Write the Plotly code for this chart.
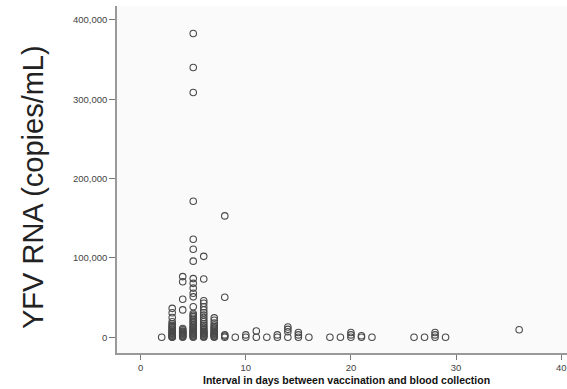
import plotly.graph_objects as go

# Interval (days) per column and YFV RNA values (copies/mL)
day2 = [0]
day3 = [36500, 31000, 25000, 19500, 17000, 15000, 13500, 12000, 10500, 9000, 7500, 6000, 5000, 4000,
        3000, 2000, 1000, 500, 0]
day4 = [76500, 70000, 48000, 34500, 11000, 9500, 8000, 7000, 6000, 5000, 4000, 3000, 2000, 1000, 0]
day5 = [383000, 340000, 308500, 171500, 123500, 111000, 96000, 74000, 68000, 62000, 55500, 51000, 38500,
        30000, 28000, 26000, 24000, 22000, 20000, 18000, 16000, 14000, 12500, 11000, 9500, 8000, 7000,
        6000, 5000, 4000, 3000, 2000, 1000, 0]
day6 = [102000, 73500, 46000, 43000, 38500, 34500, 31000, 28000, 25000, 22000, 19500, 17000, 15000, 13000,
        11000, 9500, 8000, 7000, 6000, 5000, 4000, 3000, 2000, 1000, 0]
day7 = [24500, 21500, 18000, 15500, 13500, 12000, 10500, 9000, 7500, 6000, 5000, 4000, 3000, 2000, 1000, 0]
day8 = [153000, 50500, 3000, 1500, 0]
late_days = [9, 10, 10, 11, 11, 12, 13, 13, 14, 14, 14, 14, 15, 15, 15, 16,
             18, 19, 20, 20, 20, 21, 21, 22, 26, 27, 28, 28, 28, 29, 36]
late_vals = [0, 0, 3000, 0, 8000, 0, 0, 3000, 0, 7000, 10000, 13000, 0, 3000, 6000, 0,
             0, 0, 0, 3000, 6000, 0, 2000, 0, 0, 0, 0, 3000, 6000, 0, 9600]

x_ticks = [0, 10, 20, 30, 40]
y_ticks = [0, 100000, 200000, 300000, 400000]
y_tick_labels = ["0", "100,000", "200,000", "300,000", "400,000"]

xs, ys = [], []
for d, vals in [(2, day2), (3, day3), (4, day4), (5, day5), (6, day6), (7, day7), (8, day8)]:
    xs += [d] * len(vals)
    ys += vals
xs += late_days
ys += late_vals

fig = go.Figure()
fig.add_trace(go.Scatter(
    x=xs, y=ys, mode="markers",
    marker=dict(symbol="circle-open", size=6.5, color="#4a4a4a", line=dict(width=1.1, color="#4a4a4a")),
    showlegend=False, hoverinfo="x+y",
))

fig.update_layout(
    width=567, height=389,
    margin=dict(l=117, r=0, t=6, b=36),
    paper_bgcolor="white",
    plot_bgcolor="#fafafa",
    font=dict(family="Liberation Sans, Arial, sans-serif", color="#444"),
    xaxis=dict(
        range=[-2.25, 40.55], tickvals=x_ticks, ticks="outside", ticklen=5, tickwidth=1,
        tickcolor="#777", showline=True, linecolor="#999", linewidth=1.5,
        showgrid=False, zeroline=False, tickfont=dict(size=9.5, color="#444"),
    ),
    yaxis=dict(
        range=[-19800, 417600], tickvals=y_ticks, ticktext=y_tick_labels, ticks="outside",
        ticklen=6, tickwidth=1, tickcolor="#777", showline=True, linecolor="#999", linewidth=1.5,
        showgrid=False, zeroline=False, tickfont=dict(size=9.5, color="#444"),
    ),
    annotations=[
        dict(text="YFV RNA (copies/mL)", xref="paper", yref="paper", x=-0.187, y=0.478,
             xanchor="center", yanchor="middle", textangle=-90, showarrow=False,
             font=dict(size=29, color="#222", family="Liberation Sans, Arial, sans-serif")),
        dict(text="<b>Interval in days between vaccination and blood collection</b>",
             xref="paper", yref="paper", x=0.511, y=-0.078, xanchor="center", yanchor="middle",
             showarrow=False, font=dict(size=10.5, color="#111", family="Liberation Sans, Arial, sans-serif")),
    ],
)

fig.write_html("out.html", config={"displayModeBar": False},
               post_script="document.body.style.margin='0';document.body.style.overflow='hidden';")
